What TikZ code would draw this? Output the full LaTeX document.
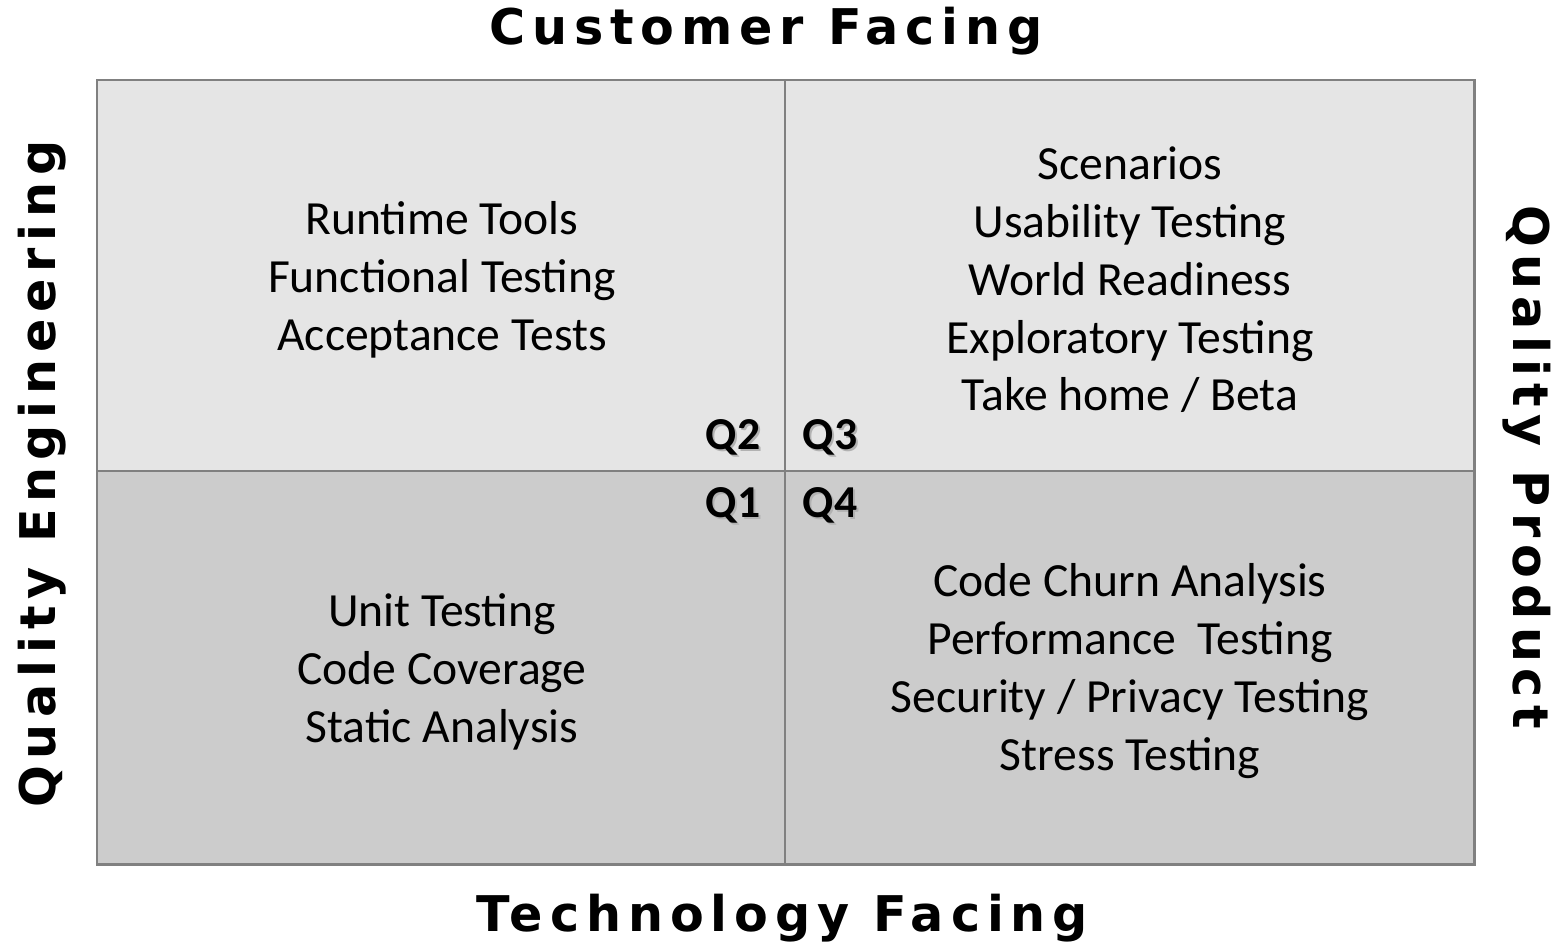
\documentclass[tikz,border=0pt]{standalone}
\usepackage{fontspec}
\setmainfont{Carlito}
\newfontfamily\axisfont[LetterSpace=14]{DejaVu Sans}
\usetikzlibrary{positioning}

\begin{document}
\begin{tikzpicture}[x=0.02cm, y=-0.02cm,
    grid/.style={draw=black!50, line width=1.7pt},
    items/.style={font=\fontsize{27.1}{32.9}\selectfont, align=center},
    qlabel/.style={font=\fontsize{26}{30}\selectfont\bfseries},
    qshadow/.style={qlabel, text=black!30},
    axis/.style={font=\axisfont\fontsize{28}{32}\selectfont\bfseries}
]
\useasboundingbox (0,0) rectangle (1553,943);

% Quadrant shading: upper half light, lower half darker
\fill[black!10] (97,80) rectangle (1474,471);
\fill[black!20] (97,471) rectangle (1474,864);
\draw[grid] (97,80) rectangle (1474,864);
\draw[grid] (785,80) -- (785,864);
\draw[grid] (97,471) -- (1474,471);

% Axis titles
\node[axis] (top) at (766,31) {Customer Facing};
\node[axis] (bottom) at (782,918) {Technology Facing};
\node[axis, rotate=90] (left) at (42,474) {Quality Engineering};
\node[axis, rotate=-90] (right) at (1527,467) {Quality Product};

% Quadrant contents
\node[items] (q2items) at (442,280)
    {Runtime Tools\\Functional Testing\\Acceptance Tests};
\node[items] (q3items) at (1130,280)
    {Scenarios\\Usability Testing\\World Readiness\\Exploratory Testing\\Take home / Beta};
\node[items] (q1items) at (442,672)
    {Unit Testing\\Code Coverage\\Static Analysis};
\node[items] (q4items) at (1130,671)
    {Code Churn Analysis\\Performance\ \ Testing\\Security / Privacy Testing\\Stress Testing};

% Quadrant numbers with a soft drop shadow
\foreach \q/\x/\y in {Q2/733/437, Q3/830/437, Q1/733/505, Q4/830/505} {
    \node[qshadow] (\q shadow) at (\x+2,\y+2) {\q};
    \node[qlabel] (\q) at (\x,\y) {\q};
}

\end{tikzpicture}
\end{document}
